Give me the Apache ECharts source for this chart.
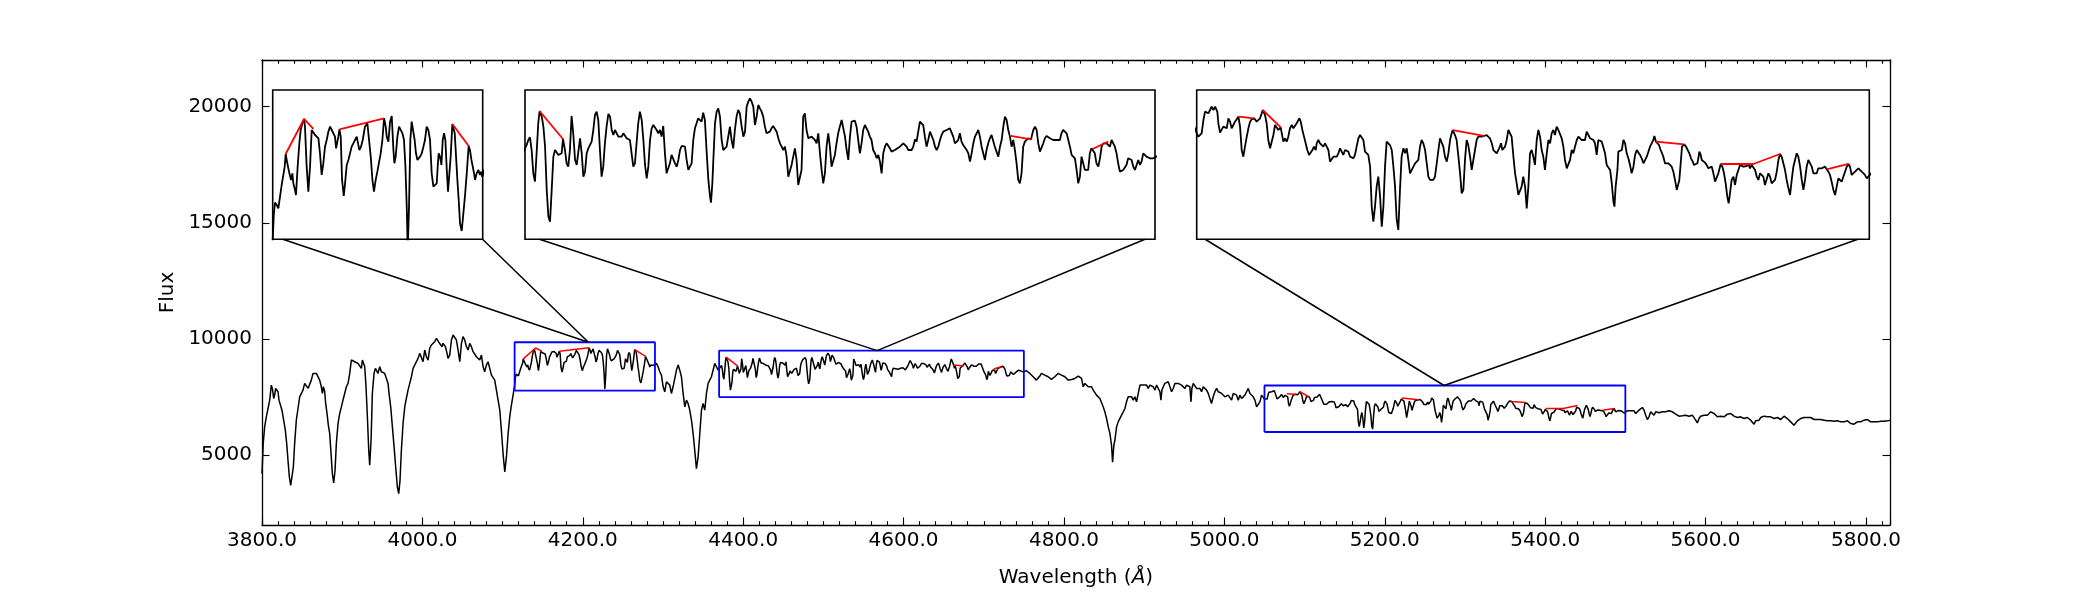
<!DOCTYPE html>
<html>
<head>
<meta charset="utf-8">
<script src="https://cdn.jsdelivr.net/npm/echarts/dist/echarts.min.js"></script>
<style>html,body{margin:0;padding:0;background:#fff}#c{width:2100px;height:600px}</style>
</head>
<body>
<div id="c"></div>
<script>
// ---------- DATA ----------
// spectrum: [wavelength (Å), flux]
const spectrum = [
[3800.0,4200],[3801.5,5500],[3803.3,6221],[3805.4,6652],[3807.5,6724],[3809.6,7370],[3811.6,8017],[3812.9,7873],[3814.6,7442],[3815.8,7586],
[3817.0,7873],[3818.7,7916],[3820.0,7730],[3821.2,7370],[3822.9,7370],[3824.9,6939],[3827.0,6508],[3829.1,6077],[3830.8,5502],[3832.4,4784],
[3834.1,4065],[3835.8,3706],[3837.4,3778],[3839.1,4496],[3840.7,5502],[3842.8,6508],[3844.9,7011],[3847.0,7514],[3849.1,7658],[3851.1,7801],
[3853.2,8089],[3855.3,8161],[3857.4,7873],[3859.5,7945],[3861.5,8232],[3863.6,8520],[3865.7,8592],[3867.8,8520],[3869.9,8448],[3871.9,8232],
[3874.0,7945],[3875.3,7658],[3876.5,7945],[3878.2,7730],[3879.4,7227],[3881.1,6796],[3882.7,6293],[3884.4,5933],[3886.1,5071],[3887.7,4209],
[3889.4,3807],[3891.1,4353],[3892.7,5502],[3894.8,6364],[3896.9,6796],[3899.0,7083],[3901.0,7370],[3903.1,7658],[3905.2,7945],[3907.3,8089],
[3909.4,8520],[3911.4,9095],[3913.5,9167],[3915.6,9023],[3917.7,9095],[3919.7,8951],[3921.8,8879],[3923.9,8735],[3925.2,9095],[3926.8,9167],
[3928.1,8807],[3929.7,7945],[3931.4,6652],[3933.1,5215],[3934.3,4568],[3936.0,5646],[3937.6,7658],[3939.7,8520],[3941.4,8735],[3943.0,8664],
[3944.7,8520],[3946.8,8807],[3948.9,8592],[3950.9,8592],[3953.0,8520],[3955.1,8304],[3957.2,8089],[3958.4,7658],[3960.5,7083],[3962.6,6221],
[3964.7,5358],[3966.7,4496],[3968.8,3634],[3970.5,3347],[3972.1,3922],[3973.8,5215],[3975.9,6364],[3978.0,7083],[3980.0,7442],[3982.1,7801],
[3984.2,8089],[3986.3,8376],[3988.4,8735],[3990.4,8879],[3992.5,8951],[3994.6,9167],[3996.7,9382],[3998.8,9310],[4000.8,9023],[4002.9,9526],
[4005.0,9238],[4007.1,9095],[4009.1,9598],[4011.2,9741],[4013.3,9813],[4015.4,9885],[4017.5,10029],[4019.5,10029],[4020.8,9842],[4022.5,9885],
[4024.5,9669],[4025.8,9813],[4027.0,9885],[4028.7,9669],[4030.8,9382],[4032.0,9167],[4034.1,9310],[4036.2,9957],[4038.3,10172],[4040.3,10101],
[4042.4,9957],[4044.5,9526],[4046.6,9023],[4048.7,9813],[4050.7,10101],[4052.8,9957],[4054.9,9669],[4057.0,9526],[4059.0,9813],[4061.1,9669],
[4063.2,9454],[4065.3,9526],[4067.4,9238],[4069.4,9167],[4071.5,9095],[4073.6,9310],[4075.7,8807],[4077.7,8592],[4079.8,8879],[4081.9,9023],
[4084.0,8735],[4086.1,8448],[4088.1,8520],[4090.2,8232],[4092.3,7801],[4094.4,7370],[4096.5,6939],[4098.5,6077],[4100.6,5071],[4102.7,4281],
[4104.8,4927],[4106.9,5933],[4108.9,6652],[4111.0,7155],[4113.1,7586],[4115.0,8000],[4116.0,8348],
[4116.9,8491],[4118.3,8460],[4119.7,8415],[4121.1,8572],[4122.5,8728],[4123.9,8750],[4125.0,8973],[4125.8,9143],[4127.2,9018],[4128.6,8906],
[4129.4,8929],[4130.3,8795],[4131.4,8884],[4132.2,8750],[4133.6,8661],[4134.4,8594],[4135.8,8973],[4137.2,9286],[4138.3,9464],[4139.7,9554],
[4141.1,9612],[4141.9,9509],[4143.3,8973],[4144.7,8638],[4146.1,8973],[4147.5,9464],[4148.9,9478],[4150.3,9397],[4151.7,9397],[4153.1,9353],
[4154.4,9152],[4155.8,8862],[4157.2,9018],[4158.6,9241],[4160.0,9330],[4161.4,9442],[4162.8,9509],[4164.2,9464],[4165.6,9442],[4166.9,9375],
[4167.8,9219],[4168.9,9196],[4169.7,9375],[4170.6,9473],[4171.7,9375],[4172.8,8795],[4174.2,8580],[4175.3,8750],[4176.7,8996],[4178.1,9063],
[4179.4,9040],[4180.8,9241],[4182.2,9286],[4183.6,9286],[4185.0,9375],[4185.8,9397],[4187.2,9196],[4188.6,9241],[4190.0,9330],[4191.9,9509],
[4193.9,9554],[4195.3,9330],[4196.7,9107],[4198.1,8795],[4199.4,8638],[4200.8,8795],[4202.2,8906],[4203.6,8906],[4205.0,9152],[4206.4,9330],
[4207.8,9621],[4209.2,9509],[4210.0,9375],[4211.4,9308],[4212.8,9576],[4214.2,9652],[4215.6,9196],[4216.4,9018],[4217.5,9107],[4218.9,9375],
[4220.3,9509],[4221.7,9487],[4223.1,9420],[4224.4,9330],[4225.6,8973],[4226.7,8438],[4227.5,7850],[4228.6,8438],[4229.7,9330],[4230.8,9576],
[4232.2,9576],[4233.3,9330],[4234.4,9152],[4235.6,9063],[4236.7,9085],[4237.8,9107],[4239.2,9152],[4240.6,9241],[4241.9,9330],[4243.3,9509],
[4244.7,9464],[4246.1,9330],[4247.5,8884],[4248.9,8705],[4250.3,8705],[4251.7,8750],[4252.5,8973],[4253.3,9152],[4254.4,9107],[4255.6,8996],
[4256.7,9330],[4257.8,9420],[4258.9,9330],[4260.0,8951],[4261.1,8638],[4262.2,8661],[4263.3,9107],[4264.7,9545],[4265.6,9545],[4266.7,9420],
[4267.8,9107],[4268.9,8795],[4270.0,8527],[4271.1,8214],[4272.5,8112],[4273.9,8348],[4275.3,8594],[4276.7,8884],[4278.3,9250],[4279.4,9196],
[4280.6,9063],[4281.7,8973],[4282.8,8884],[4283.6,8795],[4285.0,8884],[4286.4,8929],[4287.8,8862],[4288.6,8906],[4289.7,8839],
[4291.8,8951],[4293.9,8807],[4296.0,8592],[4298.1,8448],[4300.2,7945],[4302.2,7730],[4304.3,8161],[4306.4,8232],[4308.5,8017],[4310.5,7658],
[4312.6,7945],[4314.7,8304],[4316.8,8664],[4318.9,8879],[4320.9,8664],[4323.0,8376],[4325.1,7658],[4327.2,7083],[4329.3,7370],[4331.3,7227],
[4333.4,6939],[4335.5,6508],[4337.6,5933],[4339.6,5215],[4341.7,4424],[4343.8,4927],[4345.9,5933],[4348.0,6939],[4350.0,7227],[4352.1,6939],
[4354.2,7658],[4356.3,8089],[4358.3,8232],[4360.4,8376],[4362.5,8664],[4364.6,8951],[4366.7,8879],[4368.8,8664],
[4370.0,8719],[4371.0,8763],[4372.0,8830],[4373.0,8866],[4374.0,8696],[4375.0,8384],[4376.0,8272],[4377.0,8652],[4378.0,9054],[4378.8,9219],
[4380.1,9143],[4381.1,9009],[4382.1,8741],[4383.1,8161],[4384.1,7804],[4385.1,7737],[4386.1,8161],[4387.1,8607],[4388.1,8696],[4389.1,8719],
[4390.1,8630],[4391.1,8607],[4392.1,8652],[4392.9,8844],[4394.1,8696],[4395.1,8518],[4396.1,8473],[4397.1,8696],[4398.1,9152],[4399.1,8920],
[4400.2,8563],[4401.2,8496],[4402.2,8518],[4403.2,8853],[4404.2,8652],[4405.2,8339],[4406.2,8406],[4407.2,8652],[4408.2,8719],[4409.2,8741],
[4410.2,8808],[4411.2,8964],[4412.2,9165],[4413.2,9210],[4414.2,9098],[4415.2,8696],[4416.2,8339],[4417.2,8473],[4418.2,8786],[4419.2,9009],
[4420.3,9179],[4421.3,9143],[4422.3,8964],[4423.3,8897],[4424.3,8964],[4425.3,8942],[4426.3,8875],[4427.3,8897],[4428.3,8875],[4429.3,8920],
[4430.3,8942],[4431.3,8853],[4432.3,8853],[4433.3,8830],[4434.3,8652],[4435.3,8473],[4436.3,8518],[4437.3,8786],[4438.3,9054],[4439.3,9210],
[4440.4,9098],[4441.4,8830],[4442.4,8496],[4443.4,8317],[4444.4,8473],[4445.4,8830],[4446.4,8987],[4447.4,9031],[4448.4,9054],[4449.4,8964],
[4450.4,8920],[4451.4,8964],[4452.4,8875],[4453.4,9018],[4454.4,8652],[4455.4,8384],[4456.4,8384],[4457.4,8518],[4458.4,8630],[4459.4,8607],
[4460.5,8518],[4461.5,8473],[4462.5,8563],[4463.5,8696],[4464.5,8750],[4465.5,8750],[4466.5,8741],[4467.5,8563],[4468.5,8429],[4469.5,8406],
[4470.5,8518],[4471.5,8830],[4472.5,8987],[4473.5,9054],[4474.5,9121],[4475.5,9098],[4476.5,9076],[4477.5,9196],[4478.5,9098],[4479.5,8696],
[4480.6,8295],[4481.6,8071],[4482.2,7991],[4483.0,8250],[4483.6,8563],[4484.6,9054],[4485.6,9210],[4486.6,9254],[4487.6,9143],[4488.6,8830],
[4489.6,8696],[4490.6,8705],[4491.6,8741],[4492.6,8875],[4493.6,9009],[4494.6,8830],[4495.6,8719],[4496.6,8964],[4497.6,9143],[4498.6,9232],
[4499.6,9188],[4500.7,9009],[4501.7,8875],[4502.7,8942],[4503.7,9277],[4504.7,9344],[4505.7,9388],[4506.7,9344],[4507.7,9277],[4508.7,9031],
[4509.7,9143],[4510.7,9299],[4511.7,9254],[4512.7,9210],[4513.7,9143],[4514.7,9009],[4515.7,8920],[4516.7,8942],[4517.7,8942],[4518.7,8987],
[4519.7,9018],[4520.8,9009],[4521.8,8942],[4522.8,8853],[4523.8,8786],[4524.8,8741],[4525.8,8696],[4526.8,8741],[4527.8,8607],[4528.8,8339],
[4529.8,8339],[4530.8,8496],[4531.8,8518],[4532.8,8719],[4533.8,8563],[4534.8,8228],[4535.8,8228],[4536.8,8429],[4537.8,9143],[4538.8,9188],
[4539.8,8964],[4540.9,8853],[4541.9,8853],[4542.9,8875],[4543.9,8897],[4544.9,8830],[4545.9,8786],[4546.9,8920],[4547.9,8652],[4548.9,8429],
[4549.9,8250],[4550.9,8384],[4551.9,8741],[4552.9,8920],[4553.9,8741],[4554.9,8473],[4555.9,8473],[4556.9,8630],[4557.9,8786],[4558.9,8920],
[4559.9,9009],[4561.0,9098],[4562.0,9076],[4563.0,8875],[4564.0,8696],[4565.0,8563],[4566.0,8875],[4567.0,9076],[4568.0,9098],[4569.0,9089],
[4570.0,9009],[4571.0,8830],[4572.0,8652],[4573.0,8786],[4574.0,8964],[4575.0,9031],[4576.0,9009],[4577.0,8942],[4578.0,8875],[4579.0,8830],
[4580.0,8696],[4581.1,8652],[4582.1,8585],[4583.1,8630],[4584.1,8540],[4585.1,8384],[4586.1,8652],[4587.1,8741],[4588.1,8786],[4589.1,8808],
[4590.1,8719],[4591.1,8674],[4592.1,8696],[4593.1,8696],[4594.1,8719],[4596.1,8741],[4597.2,8763],[4598.2,8786],[4599.2,8763],[4600.2,8741],
[4601.2,8696],[4602.2,8674],[4603.2,8696],[4604.2,8741],[4605.2,8839],[4606.2,8808],[4607.2,8830],[4608.2,9076],[4609.2,9098],[4610.2,9031],
[4611.2,8875],[4612.2,8741],[4613.2,8830],[4614.3,8942],[4615.3,8920],[4616.3,8830],[4617.3,8741],[4618.3,8696],[4619.3,8741],[4620.3,8830],
[4621.3,8897],[4622.3,8942],[4623.3,8920],[4624.3,8964],[4625.3,8942],[4626.3,8987],[4627.3,8964],[4628.3,8875],[4629.3,8786],[4630.3,8763],
[4631.3,8830],[4632.3,8920],[4633.3,8808],[4634.3,8763],[4635.4,8741],[4636.4,8696],[4637.4,8652],[4638.4,8540],[4639.4,8652],[4640.4,8786],
[4641.4,8875],[4642.4,8920],[4643.4,8964],[4644.4,8875],[4645.4,8741],[4646.4,8652],[4647.4,8563],[4648.4,8696],[4649.4,8786],[4650.4,8853],
[4651.4,8897],[4652.4,8875],[4653.4,8741],[4654.4,8674],[4655.5,8607],[4656.5,8741],[4657.5,8830],[4658.5,9009],[4659.5,9143],[4660.5,9098],
[4661.5,8964],[4662.5,8875],[4663.1,8884],[4663.5,8741],[4664.5,8830],[4665.5,8696],[4666.5,8518],[4667.5,8295],[4668.5,8250],[4669.5,8384],
[4670.5,8741],[4671.5,8808],[4672.5,8808],[4673.5,8853],[4674.5,8875],[4675.2,8839],[4675.6,8830],[4676.6,8964],[4677.6,9009],[4678.6,8964],
[4679.6,8786],[4680.6,8674],[4681.6,8652],[4682.6,8786],[4683.6,8853],[4684.6,8884],[4685.6,8875],[4686.6,8853],[4687.6,8830],[4688.6,8830],
[4689.6,8808],[4690.6,8830],[4691.6,8853],[4692.6,8830],[4693.6,8920],[4694.6,8964],[4695.7,8987],[4696.7,8920],[4697.7,8830],[4698.7,8741],
[4699.7,8630],[4700.7,8630],[4701.7,8585],[4702.7,8429],[4703.7,8250],[4704.7,8339],[4705.7,8607],[4706.7,8518],[4707.7,8429],[4708.7,8406],
[4709.7,8429],[4710.7,8652],[4711.7,8719],[4712.7,8696],[4713.7,8652],[4714.7,8518],[4715.8,8473],[4716.8,8585],[4717.8,8741],[4718.8,8786],
[4719.8,8808],[4720.8,8786],[4721.8,8808],[4722.8,8741],[4723.8,8830],[4724.8,8830],[4725.8,8741],[4726.8,8652],[4727.8,8518],[4728.8,8406],
[4729.8,8429],[4730.8,8429],[4731.8,8429],[4732.8,8496],[4733.8,8585],[4734.9,8607],[4735.9,8563],[4736.9,8473],[4737.9,8429],[4738.9,8496],
[4739.9,8563],[4740.9,8496],[4741.9,8540],[4742.9,8652],[4743.9,8630],[4744.9,8607],[4745.9,8630],[4746.9,8585],[4747.9,8607],[4748.9,8585],
[4749.9,8563],
[4753.2,8635],[4755.3,8592],[4757.4,8520],[4759.5,8448],[4761.6,8376],[4763.6,8304],[4765.7,8232],[4767.8,8304],[4769.9,8405],[4771.9,8520],
[4774.0,8592],[4776.1,8448],[4778.2,8520],[4780.3,8376],[4782.3,8347],[4784.4,8261],[4786.5,8304],[4788.6,8376],[4790.7,8448],[4792.7,8520],
[4794.8,8592],[4796.9,8448],[4799.0,8520],
[4801.1,8376],[4803.2,8304],[4805.3,8232],[4807.4,8304],[4809.5,8261],[4811.5,8347],[4813.6,8304],[4815.7,8376],[4817.8,8405],[4819.8,8448],
[4821.9,8304],[4824.0,7945],[4826.1,8089],[4828.2,8017],[4830.2,7945],[4832.3,7873],[4834.4,7945],[4836.5,7801],[4838.5,7730],[4840.6,7586],
[4842.7,7514],[4844.8,7442],[4846.9,7370],[4848.9,7083],[4851.0,6867],[4853.1,6580],[4855.2,6221],[4857.3,5933],[4859.3,5430],[4860.6,4700],
[4862.2,5430],[4863.5,5646],[4865.6,6221],[4867.6,6436],[4869.7,6508],[4871.8,6724],[4873.9,6867],[4876.0,7011],[4878.0,7298],[4880.1,7514],
[4882.2,7514],[4884.3,7514],[4886.4,7370],[4888.4,7514],[4890.5,7298],[4892.6,7370],[4894.7,8017],[4896.7,8089],[4898.8,8017],[4900.9,8089],
[4903.0,8017],[4905.1,7873],[4907.1,8017],[4909.2,8089],[4911.3,7945],[4913.4,7801],[4915.5,8017],[4917.5,8089],[4919.6,7730],[4920.9,7370],
[4922.1,7801],[4923.8,7945],[4925.8,8089],[4927.9,8089],[4930.0,8161],[4932.1,7945],[4934.2,7730],[4936.2,7873],[4938.3,8089],[4940.4,8017],
[4942.5,8089],[4944.6,8089],[4946.6,8017],[4948.7,7945],[4950.8,7873],[4952.9,8017],[4954.9,8089],[4957.0,7945],[4958.3,7298],[4959.5,7873],
[4961.2,8089],[4963.3,8089],[4965.3,7873],[4967.4,7945],[4969.5,7873],[4971.6,7730],[4973.7,7945],[4975.7,7945],[4977.8,7801],[4979.9,7658],
[4982.0,7586],[4984.0,7227],[4986.1,7514],[4988.2,7730],[4990.3,7873],[4992.4,7730],[4994.4,7801],[4996.5,7658],[4998.6,7730],[5000.7,7514],
[5002.8,7442],[5004.8,7586],[5006.9,7514],[5009.0,7370],[5011.1,7658],[5013.1,7730],[5015.2,7586],[5017.3,7370],[5019.4,7586],[5021.5,7442],
[5023.5,7514],[5025.6,7586],[5027.7,7730],[5029.8,7873],[5031.9,7658],[5033.9,7586],[5036.0,7514],[5038.1,7370],[5040.2,7083],[5042.3,7011],
[5044.3,7298],[5046.4,7586],[5048.5,7500],
[5050.0,7420],[5051.1,7375],[5052.2,7353],[5053.3,7420],[5054.5,7598],[5055.6,7710],[5056.7,7732],[5057.8,7688],[5058.9,7732],[5060.0,7777],
[5061.2,7732],[5062.3,7777],[5063.8,7710],[5064.5,7554],[5065.6,7429],[5066.7,7442],[5067.8,7509],[5069.0,7509],[5070.1,7487],[5071.2,7621],
[5072.3,7576],[5073.4,7487],[5074.5,7531],[5075.6,7576],[5076.8,7598],[5077.9,7643],[5079.0,7509],[5080.1,7196],[5081.2,7107],[5082.3,7241],
[5083.5,7375],[5084.6,7487],[5085.7,7576],[5086.8,7607],[5088.4,7621],[5089.0,7598],[5090.1,7576],[5091.3,7598],[5092.4,7621],[5094.2,7732],
[5095.7,7665],[5096.8,7554],[5097.9,7330],[5099.1,7219],[5100.2,7196],[5101.3,7397],[5102.4,7531],[5103.5,7509],[5104.6,7464],[5106.2,7500],
[5106.9,7420],[5108.0,7308],[5109.1,7353],[5110.2,7308],[5111.3,7375],[5112.4,7487],[5113.6,7531],[5114.7,7487],[5115.8,7509],[5116.9,7554],
[5118.7,7621],[5119.6,7576],[5120.7,7464],[5121.8,7375],[5122.9,7286],[5124.0,7196],[5125.2,7130],[5126.3,7152],[5127.4,7196],[5128.5,7241],
[5129.6,7196],[5130.3,7286],[5131.4,7330],[5132.5,7286],[5133.6,7308],[5134.7,7241],[5135.9,7286],[5137.0,7286],[5138.1,7196],[5139.2,7040],
[5140.3,7063],[5141.4,7107],[5142.5,7085],[5143.7,7107],[5144.8,7152],[5145.9,7219],[5147.0,7196],[5148.1,7130],[5149.2,7196],[5150.4,7196],
[5151.5,7174],[5152.6,7107],[5153.7,7085],[5154.8,7085],[5155.9,7130],[5157.0,7241],[5158.2,7353],[5159.3,7397],[5160.4,7420],[5161.5,7330],
[5162.6,7174],[5163.7,7152],[5164.8,7130],[5166.0,6973],[5167.1,6438],[5168.2,6237],[5169.3,6438],[5170.4,6705],[5171.5,6839],[5172.7,6571],
[5173.8,6170],[5174.9,6438],[5176.0,6973],[5177.1,7308],[5178.2,7286],[5179.3,7263],[5180.5,7196],[5181.6,6973],[5182.7,6705],[5183.8,6259],
[5184.9,6125],[5186.0,6661],[5187.1,7107],[5188.3,7219],[5189.4,7152],[5190.5,7219],[5191.6,7063],[5192.7,6884],[5193.8,6862],[5195.0,6973],
[5196.1,7018],[5197.2,7040],[5198.3,7063],[5199.4,7241],[5200.5,7330],[5201.6,7286],[5202.8,7196],[5203.9,7018],[5205.0,6839],[5206.1,6795],
[5207.2,6795],[5208.3,6795],[5209.4,6839],[5210.6,7018],[5211.7,7196],[5212.8,7353],[5213.9,7375],[5215.0,7241],[5216.1,7107],[5217.3,7040],
[5218.4,7152],[5219.5,7330],[5220.6,7420],[5221.3,7464],[5222.8,7397],[5223.9,7330],[5225.1,7107],[5226.2,6884],[5227.3,6616],[5228.4,6661],
[5229.5,7063],[5230.6,7330],[5231.7,7263],[5232.9,7107],[5234.0,6929],[5235.1,7063],[5236.2,7196],[5237.3,7330],[5238.4,7375],[5239.6,7397],
[5240.7,7375],[5242.2,7384],[5242.9,7384],[5244.0,7397],[5245.1,7420],[5246.2,7353],[5247.4,7286],[5248.5,7196],[5249.6,7174],[5250.7,7152],
[5251.8,7174],[5252.9,7241],[5253.6,7286],[5254.5,7196],[5255.2,7174],[5256.3,7241],[5257.4,7330],[5258.5,7464],[5259.6,7464],[5260.7,7375],
[5261.9,7107],[5263.0,6884],[5264.1,6750],[5265.2,6594],[5266.3,6571],[5267.4,6705],[5268.5,6839],[5269.7,6705],[5270.8,6415],[5271.9,6705],
[5273.0,7152],[5274.1,7196],[5275.2,7107],[5276.3,6996],[5277.5,7330],[5278.6,7464],[5279.7,7375],[5280.8,7196],[5281.9,7107],[5283.0,6929],
[5284.2,7152],[5285.3,7330],[5286.4,7286],[5287.5,7420],[5288.6,7464],[5289.7,7397],[5290.8,7509],[5292.0,7464],[5294.2,7353],[5295.3,7241],
[5296.4,7063],[5297.6,6951],[5298.7,6929],[5299.8,7063],[5300.9,7196],[5302.0,7152],[5303.1,7241],[5304.3,7330],[5305.4,7375],[5306.5,7353],
[5307.6,7330],[5308.7,7353],[5309.8,7330],[5310.9,7442],[5312.1,7397],[5313.2,7353],[5314.3,7330],[5315.4,7330],[5316.5,7286],[5317.6,7130],
[5318.7,7330],[5319.9,7353],[5321.0,7308],[5322.1,7286],[5323.2,7152],[5324.3,6996],[5325.4,7018],[5326.6,6929],[5327.7,6750],[5328.8,6505],
[5329.5,6438],[5330.3,6705],[5331.5,6929],[5332.1,7174],[5333.2,7152],[5334.4,7196],[5335.5,7330],[5336.6,7286],[5337.7,7152],[5338.8,7085],
[5339.9,6996],[5341.0,6884],[5342.2,6973],[5343.3,7130],[5344.4,7196],[5345.5,7174],[5346.6,7130],[5347.7,7085],[5348.9,7018],[5350.0,6996],
[5351.1,7107],[5352.2,7174],[5353.3,7241],[5354.4,7286],[5355.5,7330],[5356.2,7384],[5357.3,7308],[5358.2,7308],[5359.3,7263],[5360.4,7196],
[5361.6,7196],[5362.2,7107],[5363.3,7018],[5364.5,6996],[5365.6,7018],[5366.7,6996],[5367.8,6973],[5368.9,6906],[5370.0,6795],[5371.2,6661],
[5372.3,6638],[5372.9,6795],[5373.8,7018],[5374.7,7241],[5376.1,7272],[5377.4,7241],[5378.5,7196],[5379.6,7152],[5380.7,7085],[5381.9,7040],
[5382.7,6996],[5383.9,6973],[5385.0,7018],[5385.6,7085],[5386.3,7174],[5387.2,7130],[5387.9,7063],[5389.0,7040],[5390.1,7027],[5391.2,6996],
[5392.3,6951],[5393.5,6929],[5394.6,6973],[5395.7,6884],[5396.8,6772],[5397.9,6795],[5399.0,6884],[5400.1,6973],[5400.6,7009],[5401.7,6973],
[5402.8,6884],[5403.9,6750],[5405.0,6571],[5405.9,6482],[5406.8,6616],[5407.9,6795],[5409.1,6839],[5410.2,6728],[5411.3,6862],[5412.4,6929],
[5413.5,6996],[5414.6,6973],[5415.7,6973],[5416.9,6996],[5418.0,6982],[5419.1,7009],[5420.2,6951],[5421.3,6996],[5422.4,7009],[5423.6,6929],
[5424.7,6839],[5425.8,6795],[5426.9,6884],[5428.0,6906],[5429.1,6839],[5430.2,6728],[5431.4,6750],[5432.5,6884],[5433.6,6839],[5434.7,6750],
[5435.8,6750],[5436.9,6795],[5438.1,6906],[5439.2,7063],[5440.3,7143],[5441.4,7107],[5442.5,7018],[5443.6,6929],[5444.7,6795],[5445.9,6683],
[5447.0,6594],[5448.1,6795],[5449.2,6973],[5450.3,7063],[5451.4,7152],[5452.5,7107],[5453.7,6973],[5454.8,6795],[5455.9,6661],[5457.0,6795],
[5458.1,6973],[5459.2,7063],[5460.4,7063],[5461.5,6973],[5462.6,6884],[5463.7,6862],[5464.8,6884],[5465.9,6951],[5467.0,6973],[5468.2,6951],
[5469.3,6929],[5470.4,6973],[5471.5,6938],[5472.6,6906],[5473.7,6862],[5474.8,6772],[5476.0,6661],[5477.1,6594],[5478.2,6705],[5479.3,6817],
[5480.4,6839],[5481.5,6772],[5482.7,6795],[5483.8,6906],[5484.9,6973],[5486.0,7009],[5487.1,6973],[5488.2,6862],[5489.3,6884],[5490.5,6906],
[5491.6,6929],[5492.7,6951],[5493.8,6951],[5494.9,6906],[5496.0,6906],[5497.1,6862],[5498.3,6817],[5499.4,6795],
[5502.5,6911],[5504.6,6868],[5506.6,6911],[5508.7,6839],[5510.8,6911],[5512.9,6796],[5515.0,6868],[5517.0,6940],[5519.1,7011],[5521.2,7054],
[5523.3,6940],[5525.4,6724],[5527.4,6537],[5529.5,6652],[5531.6,6868],[5533.7,6796],[5535.7,6724],[5537.8,6868],[5539.9,6911],[5542.0,6825],
[5544.1,6796],[5546.1,6868],[5548.2,6911],[5550.3,6868],[5552.4,6940],[5554.5,6911],[5556.5,6868],[5558.6,6868],[5560.7,6825],[5562.8,6767],
[5564.8,6724],[5566.9,6681],[5569.0,6724],[5571.1,6695],[5573.2,6681],[5575.2,6724],[5577.3,6767],[5579.4,6681],[5581.5,6724],[5583.5,6724],
[5585.6,6652],[5587.7,6508],[5589.8,6393],[5591.9,6580],[5593.9,6681],[5596.0,6652],[5598.1,6724],[5600.2,6796],[5602.3,6724],[5604.3,6796],
[5606.4,6868],[5608.5,6868],[5610.6,6796],[5612.6,6724],[5614.7,6652],[5616.8,6623],[5618.9,6681],[5621.0,6724],[5623.0,6652],[5625.1,6681],
[5627.2,6767],[5629.3,6724],[5631.4,6796],[5633.4,6724],[5635.5,6681],[5637.6,6652],[5639.7,6623],[5641.7,6652],[5643.8,6652],[5645.9,6623],
[5648.0,6580],[5650.1,6652],[5652.1,6623],[5654.2,6580],[5656.3,6508],[5658.4,6436],[5660.5,6336],[5662.5,6480],[5664.6,6537],[5666.7,6508],
[5668.8,6623],[5670.8,6580],[5672.9,6681],[5675.0,6724],[5677.1,6652],[5679.2,6623],[5681.2,6652],[5683.3,6580],[5685.4,6580],[5687.5,6623],
[5689.6,6623],[5691.6,6580],[5693.7,6537],[5695.8,6623],[5697.9,6681],[5699.9,6623],[5702.0,6580],[5704.1,6508],[5706.2,6436],[5708.3,6365],
[5710.3,6293],[5712.4,6365],[5714.5,6480],[5716.6,6537],[5718.7,6580],[5720.7,6623],[5722.8,6623],[5724.9,6580],[5727.0,6623],[5729.0,6580],
[5731.1,6623],[5733.2,6580],[5735.3,6537],[5737.4,6580],[5739.4,6537],[5741.5,6480],[5743.6,6537],[5745.7,6480],[5747.8,6508],[5749.8,6508],
[5751.9,6480],[5754.0,6436],[5756.1,6480],[5758.1,6508],[5760.2,6465],[5762.3,6508],[5764.4,6480],[5766.5,6508],[5768.5,6436],[5770.6,6480],
[5772.7,6436],[5774.8,6436],[5776.9,6480],[5778.9,6436],[5781.0,6365],[5783.1,6293],[5785.2,6336],[5787.2,6365],[5789.3,6436],[5791.4,6480],
[5793.5,6436],[5795.6,6480],[5797.6,6508],[5799.7,6480],[5801.8,6537],[5803.9,6508],[5806.0,6436],[5808.0,6393],[5810.1,6436],[5812.2,6393],
[5814.3,6436],[5816.3,6436],[5818.4,6465],[5820.5,6436],[5822.6,6465],[5824.7,6465],[5826.7,6480],[5828.4,6508],[5830.0,6500]
];

// red continuum segments
const continuum = [
[[4125.8,9143],[4141.1,9612],[4148.9,9478]],
[[4170.6,9473],[4207.8,9621]],
[[4264.7,9545],[4278.3,9250]],
[[4378.8,9219],[4392.9,8844]],
[[4663.1,8884],[4675.2,8839]],
[[4712.3,8710],[4721.8,8808]],
[[5077.9,7643],[5088.4,7621]],
[[5094.2,7732],[5106.2,7500]],
[[5221.3,7464],[5242.2,7384]],
[[5357.3,7308],[5376.1,7272]],
[[5400.6,7009],[5422.4,7009],[5440.3,7143]],
[[5471.5,6938],[5486.0,7009]]
];

// zoom regions (blue rectangles on the main axes)
const zoomX = [[4115,4290],[4370,4750],[5050,5500]];
const zoomY = [[7780,9860],[7500,9500],[6000,8000]];
// y-limits of the inset panels
const insetY = [[8000,10000],[7500,9500],[6000,8000]];
// connector lines: base wavelengths at inset bottom, flux of inset bottom, apex on rectangle
const connectorBase = [[3826,4075],[4146,4901],[4976,5790]];
const connectorBaseFlux = 14290;
const connectorApex = [[4207,9860],[4567,9500],[5274,8000]];

const xTickValues = [3800,4000,4200,4400,4600,4800,5000,5200,5400,5600,5800];
const yTickValues = [5000,10000,15000,20000];

// ---------- CHART ----------
const FONT = 'DejaVu Sans';
const chart = echarts.init(document.getElementById('c'), null, {renderer: 'canvas', width: 2100, height: 600});

const insetBoxes = [
  {left: 272.7, top: 90, width: 210, height: 149.3},
  {left: 525, top: 90, width: 630, height: 149.3},
  {left: 1196.7, top: 90, width: 672.6, height: 149.3}
];

const grids = [{left: 262, top: 60, width: 1628, height: 465, show: false}];
insetBoxes.forEach(b => grids.push(Object.assign({show: true, borderColor: '#000', borderWidth: 1.6, backgroundColor: '#fff'}, b)));

const black = '#000';
const XMIN = 3800, XMAX = 5830, YMIN = 2000, YMAX = 22000;

function xAx(pos, major, withLabels) {
  const a = {
    gridIndex: 0, type: 'value', position: pos, min: XMIN, max: XMAX,
    interval: major ? 200 : 20,
    axisLine: {show: major, onZero: false, lineStyle: {color: black, width: 1.3}},
    axisTick: {show: true, inside: true, length: major ? 7.5 : 3.8, lineStyle: {color: black, width: 1.1}},
    axisLabel: {show: false},
    splitLine: {show: false}
  };
  if (withLabels) {
    a.axisLabel = {show: true, customValues: xTickValues, formatter: v => v.toFixed(1), color: black, fontSize: 20, fontFamily: FONT, margin: 6};
    a.name = 'Wavelength ({i|Å})';
    a.nameLocation = 'middle';
    a.nameGap = 43;
    a.nameTextStyle = {color: black, fontSize: 20, fontFamily: FONT, rich: {i: {fontStyle: 'italic', color: black, fontSize: 20, fontFamily: FONT}}};
  }
  return a;
}
function yAx(pos, withLabels) {
  const a = {
    gridIndex: 0, type: 'value', position: pos, min: YMIN, max: YMAX,
    axisLine: {show: true, onZero: false, lineStyle: {color: black, width: 1.3}},
    axisTick: {show: true, inside: true, length: 7.5, customValues: yTickValues, lineStyle: {color: black, width: 1.1}},
    axisLabel: {show: false},
    splitLine: {show: false}
  };
  if (withLabels) {
    a.axisLabel = {show: true, customValues: yTickValues, formatter: v => String(v), color: black, fontSize: 20, fontFamily: FONT, margin: 10};
    a.name = 'Flux';
    a.nameLocation = 'middle';
    a.nameGap = 77;
    a.nameRotate = 90;
    a.nameTextStyle = {color: black, fontSize: 20, fontFamily: FONT};
  }
  return a;
}

const xAxes = [xAx('bottom', true, true), xAx('bottom', false, false), xAx('top', true, false), xAx('top', false, false)];
const yAxes = [yAx('left', true), yAx('right', false)];
for (let i = 0; i < 3; i++) {
  xAxes.push({gridIndex: i + 1, type: 'value', min: zoomX[i][0], max: zoomX[i][1], show: false, splitLine: {show: false}});
  yAxes.push({gridIndex: i + 1, type: 'value', min: insetY[i][0], max: insetY[i][1], show: false, splitLine: {show: false}});
}

const series = [];
const baseLine = {type: 'line', showSymbol: false, symbol: 'none', animation: false, clip: true, silent: true};

// main spectrum
series.push(Object.assign({}, baseLine, {xAxisIndex: 0, yAxisIndex: 0, data: spectrum, z: 2,
  lineStyle: {color: black, width: 1.5}}));
// continuum on main
continuum.forEach(seg => series.push(Object.assign({}, baseLine, {xAxisIndex: 0, yAxisIndex: 0, data: seg, z: 3,
  lineStyle: {color: '#ff0000', width: 1.5}})));
// blue rectangles and connectors
for (let i = 0; i < 3; i++) {
  const [x0, x1] = zoomX[i], [y0, y1] = zoomY[i];
  series.push(Object.assign({}, baseLine, {xAxisIndex: 0, yAxisIndex: 0, clip: false, z: 4,
    data: [[x0, y0], [x1, y0], [x1, y1], [x0, y1], [x0, y0]],
    lineStyle: {color: '#0000ff', width: 1.8}}));
  series.push(Object.assign({}, baseLine, {xAxisIndex: 0, yAxisIndex: 0, clip: false, z: 4,
    data: [[connectorBase[i][0], connectorBaseFlux], connectorApex[i], [connectorBase[i][1], connectorBaseFlux]],
    lineStyle: {color: black, width: 1.5}}));
}
// insets
for (let i = 0; i < 3; i++) {
  const lo = zoomX[i][0] - 4, hi = zoomX[i][1] + 4;
  series.push(Object.assign({}, baseLine, {xAxisIndex: 4 + i, yAxisIndex: 2 + i, z: 2,
    data: spectrum.filter(p => p[0] >= lo && p[0] <= hi),
    lineStyle: {color: black, width: 1.8}}));
  continuum.filter(seg => seg[0][0] >= zoomX[i][0] && seg[0][0] <= zoomX[i][1]).forEach(seg =>
    series.push(Object.assign({}, baseLine, {xAxisIndex: 4 + i, yAxisIndex: 2 + i, z: 3, data: seg,
      lineStyle: {color: '#ff0000', width: 1.8}})));
}

chart.setOption({
  backgroundColor: '#fff',
  animation: false,
  grid: grids,
  xAxis: xAxes,
  yAxis: yAxes,
  series: series
});
</script>
</body>
</html>
